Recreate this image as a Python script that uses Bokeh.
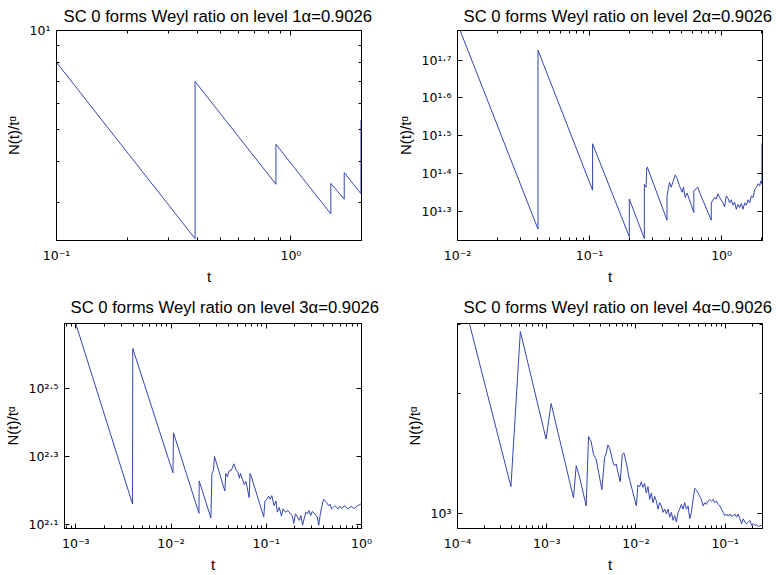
import math
from bokeh.plotting import figure
from bokeh.models import Range1d, FixedTicker, LogAxis, CustomJSTickFormatter
from bokeh.layouts import row, column
from bokeh.embed import file_html
from bokeh.resources import INLINE

# ---------------- data ----------------
ALPHA = "0.9026"
levels = [1, 2, 3, 4]

t_level1 = [0.1, 0.39, 0.39, 0.863, 0.863, 1.48, 1.48, 1.688, 1.688, 1.99, 1.99, 2.0]
ratio_level1 = [8.0, 2.33, 7.0, 3.41, 4.51, 2.77, 3.43, 3.07, 3.70, 3.19, 5.32, 5.30]

t_level2 = [0.01, 0.0407, 0.0407, 0.1054, 0.1054, 0.200, 0.200, 0.260, 0.260, 0.268, 0.271,
            0.274, 0.386, 0.386, 0.403, 0.415, 0.427, 0.445, 0.458, 0.480, 0.502, 0.514,
            0.530, 0.548, 0.616, 0.616, 0.661, 0.681, 0.835, 0.835, 0.885, 0.910, 0.938,
            0.966, 1.023, 1.054, 1.084, 1.117, 1.151, 1.184, 1.219, 1.255, 1.292, 1.330,
            1.370, 1.410, 1.452, 1.495, 1.539, 1.585, 1.632, 1.680, 1.730, 1.781, 1.834,
            1.888, 1.944, 1.978, 2.02, 2.02]
ratio_level2 = [62.5, 17.9, 53.2, 22.7, 30.1, 17.1, 21.5, 16.9, 23.5, 23.1, 26.0,
                26.1, 18.9, 21.9, 23.8, 23.1, 23.8, 24.9, 24.5, 23.3, 22.4, 23.1,
                21.7, 22.3, 19.8, 22.6, 23.1, 22.4, 18.9, 21.0, 21.7, 21.5, 22.2,
                21.7, 21.0, 20.5, 21.9, 21.6, 21.0, 21.4, 20.7, 21.1, 20.2, 20.8,
                20.4, 20.9, 20.2, 21.0, 20.7, 21.4, 21.0, 21.9, 21.7, 22.8, 23.1,
                23.6, 23.3, 24.0, 23.6, 30.2]

t_level3 = [7.6e-4, 3.94e-3, 3.96e-3, 0.01047, 0.0106, 0.01963, 0.01975, 0.0262, 0.02685,
            0.0279, 0.02857, 0.03672, 0.03758, 0.0391, 0.04064, 0.04295, 0.04571, 0.0483,
            0.0502, 0.0522, 0.0535, 0.0565, 0.0587, 0.0611, 0.0661, 0.0676, 0.0698, 0.0940,
            0.0968, 0.1016, 0.1057, 0.1099, 0.1143, 0.1208, 0.1265, 0.1306, 0.1368, 0.1445,
            0.1503, 0.1600, 0.1690, 0.1786, 0.1871, 0.1945, 0.2023, 0.2104, 0.2223, 0.2312,
            0.2404, 0.2500, 0.2600, 0.2704, 0.2812, 0.2924, 0.3041, 0.3236, 0.3420, 0.3556,
            0.3698, 0.3846, 0.3999, 0.4159, 0.4325, 0.4498, 0.4677, 0.4864, 0.5058, 0.5260,
            0.5689, 0.5916, 0.6152, 0.6653, 0.7194, 0.7780, 0.8414, 0.9099, 0.9840, 1.0]
ratio_level3 = [624, 144.5, 414, 178.5, 234, 135.8, 169, 131.5, 177.8,
                181.6, 199.5, 157.8, 177.8, 173.8, 180.7, 181.6, 189.7, 181.6,
                179.6, 172.2, 177.8, 170.2, 164.8, 168.4, 151.0, 177.8, 173.8, 132.4,
                147.6, 149.3, 152.5, 149.3, 153.0, 142.9, 147.6, 136.8, 141.3, 133.2,
                139.9, 136.8, 138.3, 135.3, 133.8, 126.8, 135.3, 133.2, 129.4, 133.8,
                125.3, 130.9, 136.8, 135.3, 138.3, 133.8, 137.4, 135.3, 132.5, 125.3,
                135.3, 142.9, 149.3, 147.6, 145.9, 142.9, 144.4, 139.9, 141.3, 142.9,
                139.9, 142.2, 140.3, 142.9, 139.9, 142.2, 140.3, 142.9, 144.4, 145.6]

t_level4 = [1e-4, 3.97e-4, 5.06e-4, 9.83e-4, 1.12e-3, 1.995e-3, 2.14e-3, 2.33e-3, 2.77e-3,
            2.94e-3, 3.15e-3, 3.34e-3, 3.58e-3, 4.15e-3, 4.45e-3, 4.65e-3, 4.85e-3, 5.06e-3,
            5.28e-3, 5.52e-3, 5.76e-3, 6.01e-3, 6.28e-3, 6.67e-3, 7.02e-3, 7.33e-3, 7.78e-3,
            8.34e-3, 9.09e-3, 0.0101, 0.01053, 0.01100, 0.01148, 0.01199, 0.01252, 0.01306,
            0.01364, 0.01424, 0.01487, 0.01552, 0.01621, 0.01692, 0.01767, 0.01845, 0.01926,
            0.02011, 0.02099, 0.02192, 0.02289, 0.02389, 0.02495, 0.02604, 0.02719, 0.02839,
            0.02964, 0.03094, 0.03231, 0.03373, 0.03521, 0.03676, 0.03838, 0.04007, 0.04183,
            0.04368, 0.04560, 0.04761, 0.04970, 0.05189, 0.05418, 0.05656, 0.05905, 0.06166,
            0.06437, 0.06720, 0.07016, 0.07327, 0.07650, 0.07987, 0.08340, 0.08712, 0.09095,
            0.09495, 0.09915, 0.1035, 0.1081, 0.1128, 0.1178, 0.1230, 0.1284, 0.1341, 0.1400,
            0.1462, 0.1526, 0.1593, 0.1663, 0.1737, 0.1813, 0.1893, 0.1977, 0.2064, 0.2154,
            0.2249, 0.2349, 0.2452, 0.2627]
ratio_level4 = [3955, 1166, 2874, 1538, 1890, 1092, 1317, 1233, 1042,
                1560, 1514, 1406, 1368, 1145, 1380, 1419, 1486, 1459,
                1406, 1343, 1317, 1330, 1268, 1199, 1406, 1419, 1343,
                1233, 1144, 1042, 1177, 1166, 1199, 1161, 1188, 1123,
                1166, 1082, 1123, 1062, 1102, 1072, 1023, 1062, 1042,
                1004, 1023, 994.5, 1023, 976, 1004, 958, 985, 949,
                1004, 1023, 1052, 1023, 1062, 1023, 1042, 967, 1004,
                1082, 1155, 1144, 1123, 1102, 1082, 1042, 1062, 1052,
                1072, 1082, 1072, 1082, 1062, 1072, 1052, 1042, 1023,
                1004, 985, 994.5, 981.5, 994.5, 981.5, 985, 994.5, 976, 994.5,
                967, 940, 967, 949, 940, 949, 958, 931, 940, 931,
                935, 923, 929, 931]

x_range_by_level = {1: (0.1, 2.0), 2: (0.01, 2.04), 3: (7.6e-4, 1.0), 4: (1e-4, 0.262)}
y_range_by_level = {1: (2.3, 10.0), 2: (16.7, 60.0), 3: (122.5, 490.0), 4: (914.0, 3010.0)}

x_tick_exps = {1: ["-1", "0"], 2: ["-2", "-1", "0"], 3: ["-3", "-2", "-1", "0"],
               4: ["-4", "-3", "-2", "-1"]}
y_tick_exps = {1: ["1"], 2: ["1.3", "1.4", "1.5", "1.6", "1.7"], 3: ["2.1", "2.3", "2.5"],
               4: ["3"]}
y_has_minor = {1: True, 2: False, 3: False, 4: True}

series = {1: (t_level1, ratio_level1), 2: (t_level2, ratio_level2),
          3: (t_level3, ratio_level3), 4: (t_level4, ratio_level4)}

x_label_text = "t"
y_label_text = "N(t)/tᵅ"

# ---------------- styling / layout ----------------
FONT = "Liberation Sans"
TICK_FONT = "DejaVu Sans"
LINE_COLOR = "#3546b0"
SUP = str.maketrans("0123456789-.", "⁰¹²³⁴⁵⁶⁷⁸⁹⁻·")

# width, height, border left, right, top, bottom
geometry = {1: (388, 287, 56, 27, 28, 47), 2: (388, 287, 69, 14, 28, 47),
            3: (388, 288, 56, 27, 36, 40), 4: (388, 288, 69, 14, 36, 40)}
title_offset = {1: 7, 2: 6, 3: 6, 4: 6}
title_standoff = {1: 9, 2: 9, 3: 13, 4: 13}


def minor_ticks(lo, hi):
    out = []
    for d in range(math.floor(math.log10(lo)), math.ceil(math.log10(hi)) + 1):
        for k in range(2, 10):
            v = k * 10.0 ** d
            if lo * 0.9999 <= v <= hi * 1.0001:
                out.append(v)
    return out


def power_formatter(exps):
    labels = {f"{float(e):.1f}": "10" + e.translate(SUP) for e in exps}
    return CustomJSTickFormatter(args=dict(labels=labels), code="""
        const k = (Math.round(Math.log10(tick) * 10) / 10).toFixed(1);
        return (k in labels) ? labels[k] : '';
    """)


def make_panel(level):
    t, r = series[level]
    xr = x_range_by_level[level]
    yr = y_range_by_level[level]
    w, h, bl, br, bt, bb = geometry[level]
    p = figure(width=w, height=h, x_axis_type="log", y_axis_type="log",
               x_range=Range1d(*xr), y_range=Range1d(*yr),
               output_backend="svg", toolbar_location=None,
               min_border_left=bl, min_border_right=br, min_border_top=bt,
               min_border_bottom=bb)
    p.add_layout(LogAxis(), "right")
    p.add_layout(LogAxis(), "above")
    p.grid.visible = False
    p.outline_line_color = "black"
    p.background_fill_color = "white"
    p.border_fill_color = "white"

    xmaj = [10.0 ** float(e) for e in x_tick_exps[level]]
    ymaj = [10.0 ** float(e) for e in y_tick_exps[level]]
    xmin_t = minor_ticks(*xr)
    ymin_t = minor_ticks(*yr) if y_has_minor[level] else []
    for ax in p.xaxis:
        ax.ticker = FixedTicker(ticks=xmaj, minor_ticks=xmin_t)
    for ax in p.yaxis:
        ax.ticker = FixedTicker(ticks=ymaj, minor_ticks=ymin_t)
    for ax in p.xaxis + p.yaxis:
        ax.major_tick_in = 5
        ax.major_tick_out = 0
        ax.minor_tick_in = 3
        ax.minor_tick_out = 0
        ax.axis_line_color = "black"
        ax.major_tick_line_color = "black"
        ax.minor_tick_line_color = "black"
        ax.major_label_text_font = TICK_FONT
        ax.major_label_text_font_size = "12.5px"
        ax.major_label_text_color = "black"
        ax.axis_label_text_font = FONT
        ax.axis_label_text_font_size = "15px"
        ax.axis_label_text_font_style = "normal"
        ax.axis_label_text_color = "black"

    for ax in (p.above[0], p.right[0]):
        ax.formatter = CustomJSTickFormatter(code="return '';")
        ax.major_label_standoff = 0

    xb = p.below[0]
    xb.formatter = power_formatter(x_tick_exps[level])
    xb.major_label_standoff = 7
    xb.axis_label = x_label_text
    xb.axis_label_standoff = 2

    yl = p.left[0]
    yl.formatter = power_formatter(y_tick_exps[level])
    yl.major_label_standoff = 6
    yl.axis_label = y_label_text
    yl.axis_label_standoff = 5

    p.title.text = f"SC 0 forms Weyl ratio on level {level}α={ALPHA}"
    p.title.text_font = FONT
    p.title.text_font_size = "16.7px"
    p.title.text_font_style = "normal"
    p.title.text_color = "black"
    p.title.align = "left"
    p.title.offset = title_offset[level]
    p.title.standoff = title_standoff[level]

    p.line(t, r, line_color=LINE_COLOR, line_width=1)
    return p


panels = [make_panel(lv) for lv in levels]
layout = column(row(panels[0], panels[1]), row(panels[2], panels[3]))

open("out.html", "w").write(file_html(layout, INLINE))
